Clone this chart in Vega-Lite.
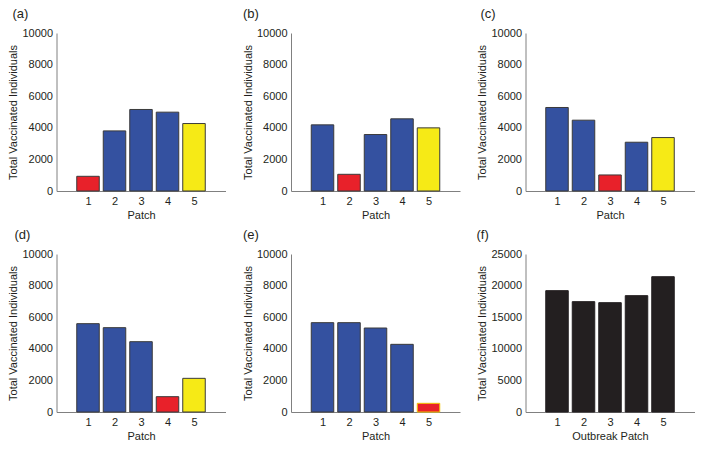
{
  "$schema": "https://vega.github.io/schema/vega-lite/v6.json",
  "padding": {"left": 7.5, "top": 8, "right": 5, "bottom": 5},
  "background": "white",
  "config": {
    "font": "Liberation Sans",
    "view": {"stroke": null},
    "axis": {
      "grid": false,
      "ticks": false,
      "domainColor": "#808080",
      "domainWidth": 1,
      "labelFontSize": 11,
      "labelColor": "#231f20",
      "labelPadding": 4,
      "titleFontSize": 11,
      "titleFontWeight": "normal",
      "titleColor": "#231f20",
      "titlePadding": 3
    },
    "title": {"fontSize": 13, "fontWeight": "normal", "color": "#231f20", "anchor": "start", "frame": "group", "offset": 6}
  },
  "data": {
    "values": [
      {"panel": "a", "patch": 1, "vaccinated": 930, "role": "outbreak"},
      {"panel": "a", "patch": 2, "vaccinated": 3805, "role": "other"},
      {"panel": "a", "patch": 3, "vaccinated": 5160, "role": "other"},
      {"panel": "a", "patch": 4, "vaccinated": 4990, "role": "other"},
      {"panel": "a", "patch": 5, "vaccinated": 4270, "role": "patch5"},
      {"panel": "b", "patch": 1, "vaccinated": 4186, "role": "other"},
      {"panel": "b", "patch": 2, "vaccinated": 1057, "role": "outbreak"},
      {"panel": "b", "patch": 3, "vaccinated": 3573, "role": "other"},
      {"panel": "b", "patch": 4, "vaccinated": 4567, "role": "other"},
      {"panel": "b", "patch": 5, "vaccinated": 3996, "role": "patch5"},
      {"panel": "c", "patch": 1, "vaccinated": 5285, "role": "other"},
      {"panel": "c", "patch": 2, "vaccinated": 4482, "role": "other"},
      {"panel": "c", "patch": 3, "vaccinated": 1015, "role": "outbreak"},
      {"panel": "c", "patch": 4, "vaccinated": 3087, "role": "other"},
      {"panel": "c", "patch": 5, "vaccinated": 3383, "role": "patch5"},
      {"panel": "d", "patch": 1, "vaccinated": 5591, "role": "other"},
      {"panel": "d", "patch": 2, "vaccinated": 5338, "role": "other"},
      {"panel": "d", "patch": 3, "vaccinated": 4451, "role": "other"},
      {"panel": "d", "patch": 4, "vaccinated": 970, "role": "outbreak"},
      {"panel": "d", "patch": 5, "vaccinated": 2131, "role": "patch5"},
      {"panel": "e", "patch": 1, "vaccinated": 5654, "role": "other"},
      {"panel": "e", "patch": 2, "vaccinated": 5654, "role": "other"},
      {"panel": "e", "patch": 3, "vaccinated": 5316, "role": "other"},
      {"panel": "e", "patch": 4, "vaccinated": 4283, "role": "other"},
      {"panel": "e", "patch": 5, "vaccinated": 549, "role": "outbreak"},
      {"panel": "f", "patch": 1, "vaccinated": 19200, "role": "total"},
      {"panel": "f", "patch": 2, "vaccinated": 17460, "role": "total"},
      {"panel": "f", "patch": 3, "vaccinated": 17300, "role": "total"},
      {"panel": "f", "patch": 4, "vaccinated": 18410, "role": "total"},
      {"panel": "f", "patch": 5, "vaccinated": 21410, "role": "total"}
    ]
  },
  "columns": 3,
  "bounds": "flush",
  "spacing": {"row": 63, "column": 65.5},
  "concat": [
    {
      "width": 169, "height": 158,
      "title": {"text": "(a)", "dx": -44},
      "transform": [{"filter": "datum.panel === 'a'"}],
      "mark": {"type": "bar", "width": 22.5, "stroke": "#3a3a3a", "strokeWidth": 1},
      "encoding": {
        "x": {"field": "patch", "type": "quantitative", "scale": {"domain": [0, 6], "nice": false}, "axis": {"values": [1, 2, 3, 4, 5], "title": "Patch"}},
        "y": {"field": "vaccinated", "type": "quantitative", "scale": {"domain": [0, 10000], "nice": false}, "axis": {"values": [0, 2000, 4000, 6000, 8000, 10000], "format": "d", "title": "Total Vaccinated Individuals"}},
        "color": {"field": "role", "type": "nominal", "scale": {"domain": ["outbreak", "other", "patch5", "total"], "range": ["#e8212a", "#3451a0", "#f6ea16", "#231f20"]}, "legend": null}
      }
    },
    {
      "width": 169, "height": 158,
      "title": {"text": "(b)", "dx": -48},
      "transform": [{"filter": "datum.panel === 'b'"}],
      "mark": {"type": "bar", "width": 22.5, "stroke": "#3a3a3a", "strokeWidth": 1},
      "encoding": {
        "x": {"field": "patch", "type": "quantitative", "scale": {"domain": [0, 6], "nice": false}, "axis": {"values": [1, 2, 3, 4, 5], "title": "Patch"}},
        "y": {"field": "vaccinated", "type": "quantitative", "scale": {"domain": [0, 10000], "nice": false}, "axis": {"values": [0, 2000, 4000, 6000, 8000, 10000], "format": "d", "title": "Total Vaccinated Individuals"}},
        "color": {"field": "role", "type": "nominal", "scale": {"domain": ["outbreak", "other", "patch5", "total"], "range": ["#e8212a", "#3451a0", "#f6ea16", "#231f20"]}, "legend": null}
      }
    },
    {
      "width": 169, "height": 158,
      "title": {"text": "(c)", "dx": -45},
      "transform": [{"filter": "datum.panel === 'c'"}],
      "mark": {"type": "bar", "width": 22.5, "stroke": "#3a3a3a", "strokeWidth": 1},
      "encoding": {
        "x": {"field": "patch", "type": "quantitative", "scale": {"domain": [0, 6], "nice": false}, "axis": {"values": [1, 2, 3, 4, 5], "title": "Patch"}},
        "y": {"field": "vaccinated", "type": "quantitative", "scale": {"domain": [0, 10000], "nice": false}, "axis": {"values": [0, 2000, 4000, 6000, 8000, 10000], "format": "d", "title": "Total Vaccinated Individuals"}},
        "color": {"field": "role", "type": "nominal", "scale": {"domain": ["outbreak", "other", "patch5", "total"], "range": ["#e8212a", "#3451a0", "#f6ea16", "#231f20"]}, "legend": null}
      }
    },
    {
      "width": 169, "height": 158,
      "title": {"text": "(d)", "dx": -42},
      "transform": [{"filter": "datum.panel === 'd'"}],
      "mark": {"type": "bar", "width": 22.5, "stroke": "#3a3a3a", "strokeWidth": 1},
      "encoding": {
        "x": {"field": "patch", "type": "quantitative", "scale": {"domain": [0, 6], "nice": false}, "axis": {"values": [1, 2, 3, 4, 5], "title": "Patch"}},
        "y": {"field": "vaccinated", "type": "quantitative", "scale": {"domain": [0, 10000], "nice": false}, "axis": {"values": [0, 2000, 4000, 6000, 8000, 10000], "format": "d", "title": "Total Vaccinated Individuals"}},
        "color": {"field": "role", "type": "nominal", "scale": {"domain": ["outbreak", "other", "patch5", "total"], "range": ["#e8212a", "#3451a0", "#f6ea16", "#231f20"]}, "legend": null}
      }
    },
    {
      "width": 169, "height": 158,
      "title": {"text": "(e)", "dx": -48},
      "transform": [{"filter": "datum.panel === 'e'"}],
      "mark": {"type": "bar", "width": 22.5, "strokeWidth": 1},
      "encoding": {
        "x": {"field": "patch", "type": "quantitative", "scale": {"domain": [0, 6], "nice": false}, "axis": {"values": [1, 2, 3, 4, 5], "title": "Patch"}},
        "y": {"field": "vaccinated", "type": "quantitative", "scale": {"domain": [0, 10000], "nice": false}, "axis": {"values": [0, 2000, 4000, 6000, 8000, 10000], "format": "d", "title": "Total Vaccinated Individuals"}},
        "color": {"field": "role", "type": "nominal", "scale": {"domain": ["outbreak", "other", "patch5", "total"], "range": ["#e8212a", "#3451a0", "#f6ea16", "#231f20"]}, "legend": null},
        "stroke": {"condition": {"test": "datum.patch === 5", "value": "#f2c500"}, "value": "#3a3a3a"}
      }
    },
    {
      "width": 169, "height": 158,
      "title": {"text": "(f)", "dx": -49},
      "transform": [{"filter": "datum.panel === 'f'"}],
      "mark": {"type": "bar", "width": 22.5, "stroke": "#231f20", "strokeWidth": 1},
      "encoding": {
        "x": {"field": "patch", "type": "quantitative", "scale": {"domain": [0, 6], "nice": false}, "axis": {"values": [1, 2, 3, 4, 5], "title": "Outbreak Patch"}},
        "y": {"field": "vaccinated", "type": "quantitative", "scale": {"domain": [0, 25000], "nice": false}, "axis": {"values": [0, 5000, 10000, 15000, 20000, 25000], "format": "d", "title": "Total Vaccinated Individuals"}},
        "color": {"field": "role", "type": "nominal", "scale": {"domain": ["outbreak", "other", "patch5", "total"], "range": ["#e8212a", "#3451a0", "#f6ea16", "#231f20"]}, "legend": null}
      }
    }
  ]
}
